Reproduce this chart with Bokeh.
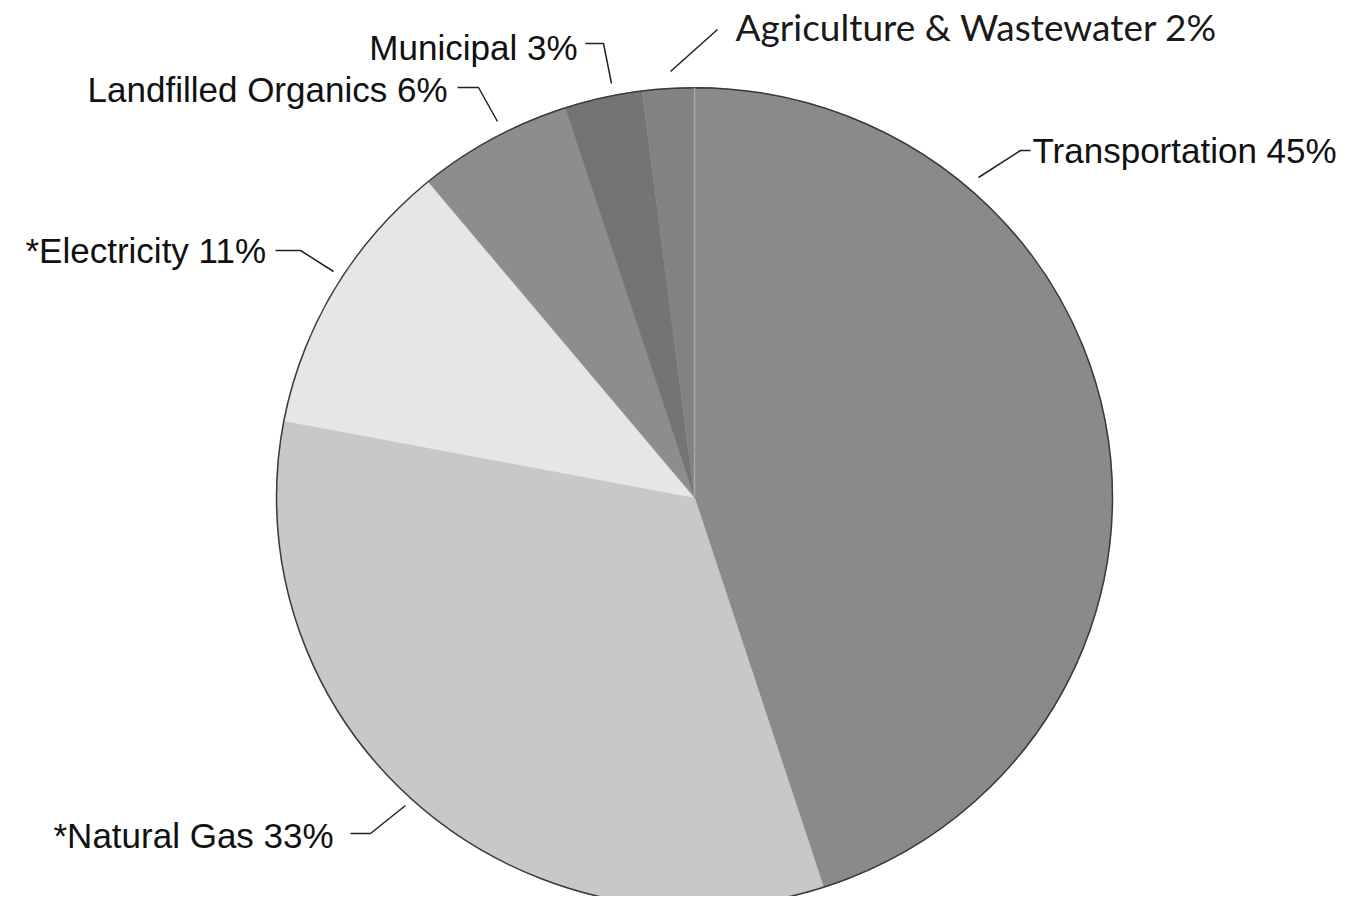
import numpy as np
from bokeh.plotting import figure
from bokeh.models import Range1d, ColumnDataSource
from bokeh.embed import file_html
from bokeh.resources import INLINE
from bokeh.core.properties import value

# ---- data ----
categories = ["Transportation", "Natural Gas", "Electricity",
              "Landfilled Organics", "Municipal", "Agriculture & Wastewater"]
shares = [45, 33, 11, 6, 3, 2]
labels = ["Transportation 45%", "*Natural Gas 33%", "*Electricity 11%",
          "Landfilled Organics 6%", "Municipal 3%", "Agriculture & Wastewater 2%"]
colors = ["#8a8a8a", "#c8c8c8", "#e6e6e6", "#8d8d8d", "#747474", "#828282"]

# ---- layout (screen pixel coordinates; y is negated screen y) ----
W, H = 1342, 896
cx, cy = 694, 497
rx, ry = 418, 410

p = figure(width=W, height=H, output_backend="svg", toolbar_location=None,
           x_range=Range1d(0, W), y_range=Range1d(-H, 0))
p.min_border = 0
p.axis.visible = False
p.grid.visible = False
p.outline_line_color = None
p.background_fill_color = "white"
p.border_fill_color = "white"

vals = np.array(shares, dtype=float)
frac = vals / vals.sum()
cum = np.concatenate([[0], np.cumsum(frac)]) * 2 * np.pi  # clockwise from top
xs, ys = [], []
for a0, a1 in zip(cum[:-1], cum[1:]):
    t = np.linspace(a0, a1, max(8, int((a1 - a0) * 120)))
    px = cx + rx * np.sin(t)
    py = -(cy - ry * np.cos(t))
    xs.append([cx] + list(px))
    ys.append([-cy] + list(py))
src = ColumnDataSource(dict(xs=xs, ys=ys, color=colors, name=categories))
p.patches("xs", "ys", fill_color="color", line_color="color", line_width=0.5, source=src)

# outer outline
p.ellipse(x=cx, y=-cy, width=2 * rx, height=2 * ry, fill_color=None,
          line_color="#3a3a3a", line_width=1.5)

# faint boundary line at the top (Agriculture / Transportation)
p.segment(x0=cx, y0=-cy, x1=cx, y1=-(cy - ry), line_color="#a8a8a8", line_width=1.5)

# ---- labels ----
lab_x = [1032, 53, 25, 447, 577, 735]
lab_y = [150, 835, 250, 89, 47, 26]
lab_align = ["left", "left", "left", "right", "right", "left"]
arial = [0, 1, 2, 3, 4]
for i in arial:
    p.text(x=[lab_x[i]], y=[-lab_y[i]], text=[labels[i]], text_align=lab_align[i],
           text_baseline="alphabetic", text_font=value("Liberation Sans"),
           text_font_size="35px", text_color="#111111")
p.text(x=[lab_x[5]], y=[-lab_y[5]], text=[labels[5]], text_align="left",
       text_baseline="alphabetic", text_font=value("Lato"),
       text_font_size="37px", text_color="#1a1a1a")

# leader lines
lx = [[1030, 1020, 978], [350, 370, 405], [275, 300, 333], [457, 478, 497],
      [585, 603, 611], [717, 670]]
ly = [[150, 150, 177], [833, 833, 805], [250, 250, 271], [87, 87, 121],
      [43, 43, 83], [29, 71]]
p.multi_line(xs=lx, ys=[[-v for v in row] for row in ly], line_color="#222222",
             line_width=1.5)

open("out.html", "w").write(file_html(p, INLINE))
